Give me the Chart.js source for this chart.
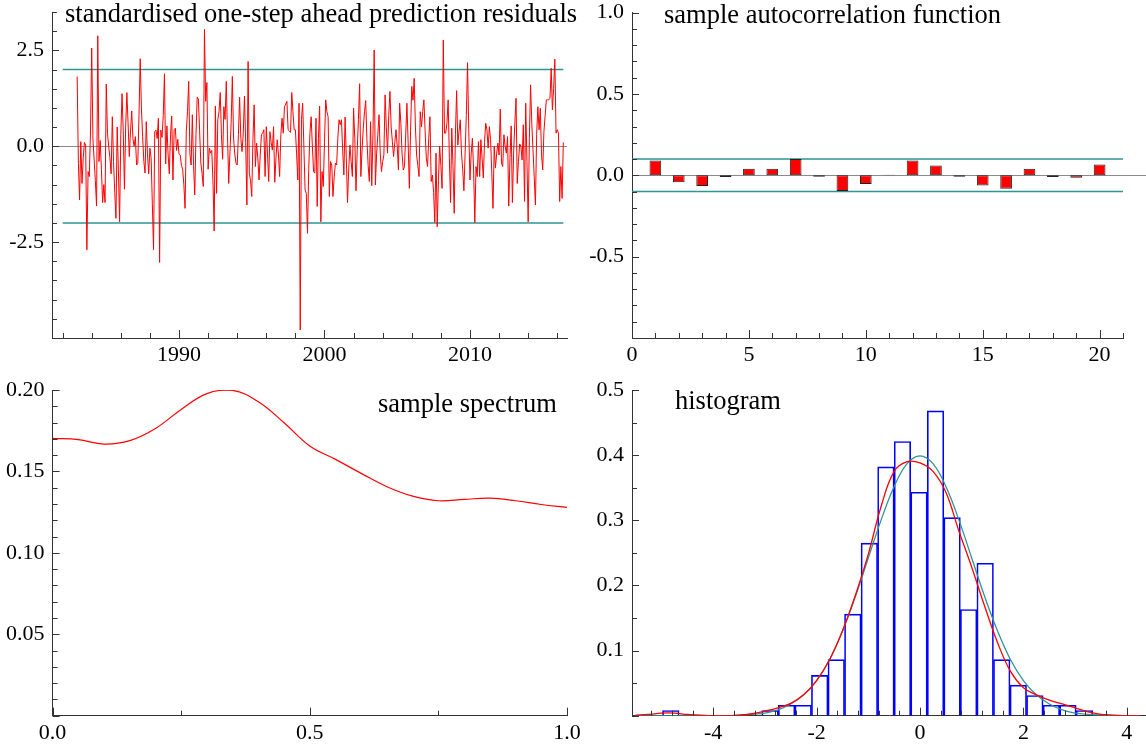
<!DOCTYPE html>
<html>
<head>
<meta charset="utf-8">
<title>Residual diagnostics</title>
<script src="https://cdn.jsdelivr.net/npm/chart.js@4.4.0/dist/chart.umd.min.js"></script>
<style>
  body { margin: 0; background: #fff; }
  #wrap { position: relative; width: 1146px; height: 747px; overflow: hidden; }
  canvas { position: absolute; }
</style>
</head>
<body>
<div id="wrap">
  <canvas id="residChart" width="590" height="373" style="left:0;top:0"></canvas>
  <canvas id="acfChart" width="566" height="373" style="left:580px;top:0"></canvas>
  <canvas id="spectrumChart" width="590" height="374" style="left:0;top:373px"></canvas>
  <canvas id="histChart" width="566" height="374" style="left:580px;top:373px"></canvas>
</div>
<script>
// Residuals, monthly, first observation 1983(1)
const residStart = 1983;
const residuals = [
  1.82, -0.45, -1.40, 0.12, -0.97, -0.30, 0.10, 0.03, -2.70, -0.66, -0.79, 0.40,
  2.56, 0.20, -0.36, -0.90, -1.56, 2.88, -0.40, 0.15, -0.60, -1.47, -1.00, -1.47,
  1.62, 0.34, 0.00, -0.30, -0.72, 0.77, -0.40, -1.20, -1.88, 0.50, -0.60, -1.97,
  0.30, 1.37, 0.40, -1.12, 0.50, 1.40, 0.60, -0.27, 0.40, 0.92, 0.20, 0.00,
  0.25, -0.49, -0.44, 0.80, 2.28, 1.00, 0.25, -0.40, -0.70, 0.64, -0.20, -0.72,
  -0.05, -0.30, -1.50, -2.70, 0.38, 0.42, 0.20, 0.73, -3.03, 0.42, 0.23, 0.80,
  1.89, -0.46, 0.53, -0.20, -0.72, 0.30, 0.79, -0.88, 0.43, 0.47, -0.11, 0.18,
  -0.20, -0.23, -0.50, -0.60, -1.00, -1.62, 0.38, 0.90, 1.69, -0.20, -0.49, 0.82,
  -0.50, -1.27, 0.30, 1.28, 1.23, 0.40, -0.44, -0.70, -1.05, 3.05, 1.17, 1.66,
  -0.60, -0.05, -0.18, -0.11, -0.90, -2.21, 1.05, -1.23, 0.69, 0.90, 1.40, 0.30,
  -0.34, 1.03, 0.70, 1.69, 0.30, -0.97, -0.18, 0.60, 1.82, 0.21, -0.20, -0.44,
  -0.49, 0.30, 1.28, 0.20, -0.14, 0.34, 1.31, 0.10, -1.53, 2.21, -0.70, -0.90,
  -1.31, 0.20, 1.08, -0.53, 0.08, -0.30, -0.88, -0.23, 0.30, 0.35, 0.43, -0.79,
  0.51, -0.20, -0.92, 0.38, 0.10, -0.10, 0.51, -0.94, -0.30, 0.17, -0.20, -0.79,
  0.30, 0.73, 0.34, 1.03, 1.10, 1.17, 0.43, 0.40, 0.36, 1.40, 0.90, 0.43,
  0.43, -0.20, -0.88, 1.12, -4.79, 0.69, 1.12, 0.00, -1.14, -1.23, -2.27, -0.60,
  0.34, 0.77, 0.00, -0.66, -0.70, 0.73, -1.57, 0.20, 1.05, -1.97, -0.66, -1.05,
  0.10, 1.21, 0.90, 0.77, -1.31, -0.40, -0.49, -1.31, -0.80, -0.44, -0.49, 0.20,
  0.69, 0.56, 0.69, -0.10, -0.75, 0.76, -0.30, -1.47, -0.60, 0.03, -0.40, -0.79,
  0.99, 0.20, -1.16, -0.10, 0.70, 1.63, -0.79, -0.10, 0.47, 0.90, 1.19, 0.17,
  -0.50, -0.92, 0.64, -1.03, 0.30, 2.51, -1.01, -0.20, 0.30, 0.82, -0.20, -0.66,
  -0.40, -0.23, 1.34, 0.50, -0.18, 0.80, 1.43, 0.50, 0.12, -0.27, 0.10, 0.43,
  0.00, -0.62, 1.12, 0.60, -0.20, -0.62, -0.53, 0.30, 1.12, 0.10, -1.10, 0.40,
  1.56, 1.20, 1.77, 0.50, -0.23, -0.50, -0.79, 0.90, 0.50, 0.90, 1.21, 0.40,
  -0.31, -0.53, 0.20, 0.77, -0.92, -0.75, -1.20, -1.99, -0.18, -2.10, -0.90, 0.00,
  -0.50, -1.10, 2.77, 0.34, 0.34, 0.60, 1.21, -0.30, -1.47, 0.47, -0.50, -1.75,
  0.30, 1.45, 0.03, 0.40, 0.69, -0.18, -0.60, -1.16, -0.18, 0.80, 2.18, 0.43,
  -0.88, -0.20, 0.21, -0.62, -1.99, -0.53, -0.79, 0.12, -0.79, 0.17, -0.30, -0.83,
  0.10, 0.60, 0.43, -0.05, 0.51, 0.17, -0.70, -1.62, 0.00, -0.57, -0.20, 0.08,
  -0.23, 0.97, -0.44, -0.53, 0.30, 0.00, -0.18, 0.25, -1.56, -0.30, 0.53, -1.47,
  -0.20, 0.60, 1.25, -0.97, -0.40, 0.06, 0.00, -0.36, 0.56, -1.44, 1.12, -0.40,
  -1.97, 0.20, 1.60, 0.60, -0.10, -0.80, -1.53, 0.30, 1.03, 0.43, 0.99, -0.20,
  -0.62, 0.38, 0.80, 1.21, 1.21, 1.21, 1.25, 2.03, 0.95, 1.50, 2.27, 0.34,
  0.43, 0.34, -1.44, -0.53, -1.36, 0.10
];
const residBand = 2;
const residBandFrom = 1982;
const residXTicks = [1990, 2000, 2010];
const residYTicks = [-2.5, 0, 2.5];

// Sample autocorrelation function
const acfLags = [1, 2, 3, 4, 5, 6, 7, 8, 9, 10, 11, 12, 13, 14, 15, 16, 17, 18, 19, 20];
const acfValues = [0.092, -0.043, -0.065, -0.010, 0.041, 0.041, 0.100, -0.008, -0.096, -0.053,
                   0.004, 0.092, 0.061, -0.008, -0.063, -0.082, 0.041, -0.010, -0.014, 0.067];
const acfBand = 0.1;
const acfXTicks = [0, 5, 10, 15, 20];
const acfYTicks = [-0.5, 0, 0.5, 1];

// Sample spectrum
const spectrumFreq = [0, 0.05, 0.1, 0.15, 0.2, 0.25, 0.3, 0.35, 0.4, 0.45, 0.5,
                      0.55, 0.6, 0.65, 0.7, 0.75, 0.8, 0.85, 0.9, 0.95, 1];
const spectrumValues = [0.1703, 0.1695, 0.1668, 0.1689, 0.1764, 0.1881, 0.1978, 0.1998, 0.1928, 0.1799, 0.1656,
                        0.1574, 0.1488, 0.1406, 0.1348, 0.1320, 0.1328, 0.1336, 0.1320, 0.1297, 0.1279];
const spectrumXTicks = [0, 0.5, 1];
const spectrumYTicks = [0.05, 0.1, 0.15, 0.2];

// Histogram with density estimates
const histStart = -4.98;
const histWidth = 0.32;
const histDensity = [0.008, 0, 0, 0, 0, 0, 0.008, 0.016, 0.016, 0.062, 0.086, 0.156, 0.265,
                     0.382, 0.421, 0.343, 0.468, 0.304, 0.163, 0.234, 0.086, 0.047, 0.031,
                     0.016, 0.016, 0.008];
const densityFrom = -5.5;
const densityStep = 0.25;
const kernelDensity = [0.001, 0.002, 0.004, 0.004, 0.002, 0.001, 0.000, 0.000, 0.001, 0.003,
                       0.007, 0.012, 0.019, 0.032, 0.054, 0.086, 0.130, 0.185, 0.248, 0.322,
                       0.375, 0.390, 0.388, 0.375, 0.343, 0.284, 0.228, 0.168, 0.112, 0.068,
                       0.043, 0.032, 0.024, 0.018, 0.012, 0.006, 0.002, 0.001, 0.000, 0.000];
const normalDensity = [0.000, 0.000, 0.000, 0.000, 0.000, 0.000, 0.000, 0.000, 0.001, 0.002,
                       0.004, 0.009, 0.018, 0.032, 0.054, 0.086, 0.130, 0.183, 0.242, 0.301,
                       0.352, 0.387, 0.399, 0.387, 0.352, 0.301, 0.242, 0.183, 0.130, 0.086,
                       0.054, 0.032, 0.018, 0.009, 0.004, 0.002, 0.001, 0.000, 0.000, 0.000];
const histXTicks = [-4, -2, 0, 2, 4];
const histYTicks = [0.1, 0.2, 0.3, 0.4, 0.5];

const RED = "#ff0000";
const TEAL = "#2e9494";
const AXIS = "#333333";
const FONT = '"Liberation Serif", "Times New Roman", serif';

Chart.defaults.font.family = FONT;
Chart.defaults.font.size = 22;
Chart.defaults.color = "#000";
Chart.defaults.animation = false;

function steps(min, max, step) {
  const out = [];
  for (let k = Math.ceil(min / step - 1e-9); k <= Math.floor(max / step + 1e-9); k++) out.push(k * step);
  return out;
}
function isMultiple(v, m) {
  return Math.abs(v / m - Math.round(v / m)) < 1e-6;
}

// inward tick marks and the grey zero line
const innerTicks = {
  id: "innerTicks",
  beforeDatasetsDraw(chart, args, opts) {
    if (!opts.zeroLine) return;
    const { ctx, chartArea: a, scales: { y } } = chart;
    const py = Math.round(y.getPixelForValue(0)) + 0.5;
    ctx.save();
    ctx.strokeStyle = "#8a8a8a";
    ctx.lineWidth = 1;
    ctx.beginPath();
    ctx.moveTo(a.left, py);
    ctx.lineTo(opts.zeroToEdge ? chart.width : a.right, py);
    ctx.stroke();
    ctx.restore();
  },
  afterDraw(chart, args, opts) {
    if (!opts.xStep) return;
    const { ctx, chartArea: a, scales: { x, y } } = chart;
    ctx.save();
    ctx.strokeStyle = AXIS;
    ctx.lineWidth = 1;
    ctx.beginPath();
    steps(x.min, x.max, opts.xStep).forEach((v) => {
      const px = Math.round(x.getPixelForValue(v)) + 0.5;
      const len = isMultiple(v, opts.xMajor) ? 8 : 5;
      ctx.moveTo(px, a.bottom);
      ctx.lineTo(px, a.bottom - len);
    });
    steps(y.min, y.max, opts.yStep).forEach((v) => {
      const py = Math.round(y.getPixelForValue(v)) + 0.5;
      const len = isMultiple(v, opts.yMajor) ? 7 : 5;
      ctx.moveTo(a.left, py);
      ctx.lineTo(a.left + len, py);
    });
    ctx.stroke();
    ctx.restore();
  }
};

const panelTitle = {
  id: "panelTitle",
  afterDraw(chart, args, opts) {
    if (!opts.text) return;
    const ctx = chart.ctx;
    ctx.save();
    ctx.font = "26.5px " + FONT;
    ctx.fillStyle = "#000";
    ctx.textBaseline = "alphabetic";
    ctx.fillText(opts.text, opts.x, opts.y);
    ctx.restore();
  }
};

Chart.register(innerTicks, panelTitle);

function xAxis(min, max, ticks, digits, height, pad) {
  return {
    type: "linear", position: "bottom", min, max, offset: false,
    grid: { display: false, drawTicks: false },
    border: { display: true, color: AXIS, width: 1 },
    ticks: { padding: pad, maxRotation: 0, autoSkip: false, callback: (v) => Number(v).toFixed(digits) },
    afterBuildTicks: (axis) => { axis.ticks = ticks.map((value) => ({ value })); },
    afterFit: (axis) => {
      axis.height = height;
      axis.paddingLeft = 0;
      axis.paddingRight = 0;
    }
  };
}
function yAxis(min, max, ticks, digits, width) {
  return {
    type: "linear", position: "left", min, max,
    grid: { display: false, drawTicks: false },
    border: { display: true, color: AXIS, width: 1 },
    ticks: { padding: 8, callback: (v) => Number(v).toFixed(digits) },
    afterBuildTicks: (axis) => { axis.ticks = ticks.map((value) => ({ value })); },
    afterFit: (axis) => {
      axis.width = width;
      axis.paddingTop = 0;
      axis.paddingBottom = 0;
    }
  };
}
function flatLine(level, from, to) {
  return {
    type: "line",
    data: [{ x: from, y: level }, { x: to, y: level }],
    borderColor: TEAL, borderWidth: 1.5, pointRadius: 0, order: 2
  };
}

// Panel 1: residuals
const residPoints = residuals.map((v, i) => ({ x: residStart + i / 12, y: v }));
const residEnd = residPoints[residPoints.length - 1].x;
new Chart(document.getElementById("residChart"), {
  type: "line",
  data: {
    datasets: [
      { data: residPoints, borderColor: RED, borderWidth: 1, pointRadius: 0, tension: 0, order: 1 },
      flatLine(residBand, residBandFrom, residEnd),
      flatLine(-residBand, residBandFrom, residEnd)
    ]
  },
  options: {
    responsive: false,
    layout: { padding: { top: 12, right: 23, left: 0, bottom: 0 } },
    scales: {
      x: xAxis(1981.27, 2016.67, residXTicks, 0, 35, 4),
      y: yAxis(-5, 3.5, residYTicks, 1, 52)
    },
    plugins: {
      legend: { display: false }, tooltip: { enabled: false },
      innerTicks: { xStep: 2, xMajor: 10, yStep: 0.5, yMajor: 2.5, zeroLine: true },
      panelTitle: { text: "standardised one-step ahead prediction residuals", x: 65, y: 22 }
    }
  }
});

// Panel 2: autocorrelations
new Chart(document.getElementById("acfChart"), {
  type: "bar",
  data: {
    datasets: [
      {
        data: acfLags.map((lag, i) => ({ x: lag, y: acfValues[i] })),
        backgroundColor: RED, borderColor: "#222", borderWidth: 1, borderSkipped: false,
        barPercentage: 0.5, categoryPercentage: 1, order: 1
      },
      flatLine(acfBand, 0, 21),
      flatLine(-acfBand, 0, 21)
    ]
  },
  options: {
    responsive: false,
    layout: { padding: { top: 12.7, right: 23, left: 0, bottom: 0 } },
    scales: {
      x: xAxis(0, 21, acfXTicks, 0, 35, 4),
      y: yAxis(-1, 1, acfYTicks, 1, 52)
    },
    plugins: {
      legend: { display: false }, tooltip: { enabled: false },
      innerTicks: { xStep: 1, xMajor: 5, yStep: 0.1, yMajor: 0.5, zeroLine: true, zeroToEdge: true },
      panelTitle: { text: "sample autocorrelation function", x: 84, y: 23 }
    }
  }
});

// Panel 3: spectrum
new Chart(document.getElementById("spectrumChart"), {
  type: "line",
  data: {
    datasets: [{
      data: spectrumFreq.map((f, i) => ({ x: f, y: spectrumValues[i] })),
      borderColor: RED, borderWidth: 1.2, pointRadius: 0, tension: 0.4
    }]
  },
  options: {
    responsive: false,
    layout: { padding: { top: 17, right: 23, left: 0, bottom: 0 } },
    scales: {
      x: xAxis(0, 1, spectrumXTicks, 1, 31.3, 4),
      y: yAxis(0, 0.2, spectrumYTicks, 2, 52.6)
    },
    plugins: {
      legend: { display: false }, tooltip: { enabled: false },
      innerTicks: { xStep: 0.25, xMajor: 0.5, yStep: 0.01, yMajor: 0.05 },
      panelTitle: { text: "sample spectrum", x: 378, y: 39 }
    }
  }
});

// Panel 4: histogram, kernel density (red) and N(0,1) (teal)
const densityX = kernelDensity.map((_, i) => densityFrom + i * densityStep);
new Chart(document.getElementById("histChart"), {
  type: "bar",
  data: {
    datasets: [
      {
        type: "line",
        data: densityX.map((x, i) => ({ x, y: normalDensity[i] })),
        borderColor: TEAL, borderWidth: 1.3, pointRadius: 0, tension: 0.4, order: 2
      },
      {
        type: "line",
        data: densityX.map((x, i) => ({ x, y: kernelDensity[i] })),
        borderColor: RED, borderWidth: 1.3, pointRadius: 0, tension: 0.4, order: 1
      },
      {
        data: histDensity.map((v, k) => ({ x: histStart + (k + 0.5) * histWidth, y: v || null })),
        backgroundColor: "rgba(0,0,0,0)", borderColor: "#0000ff", borderWidth: 1,
        borderSkipped: "start", barPercentage: 1, categoryPercentage: 1, order: 3
      }
    ]
  },
  options: {
    responsive: false,
    layout: { padding: { top: 17, right: 0, left: 0, bottom: 0 } },
    scales: {
      x: xAxis(-5.57, 4.37, histXTicks, 0, 31.3, 4),
      y: yAxis(0, 0.5, histYTicks, 1, 52)
    },
    plugins: {
      legend: { display: false }, tooltip: { enabled: false },
      innerTicks: { xStep: 0.4, xMajor: 2, yStep: 0.05, yMajor: 0.1 },
      panelTitle: { text: "histogram", x: 95, y: 36 }
    }
  }
});
</script>
</body>
</html>
